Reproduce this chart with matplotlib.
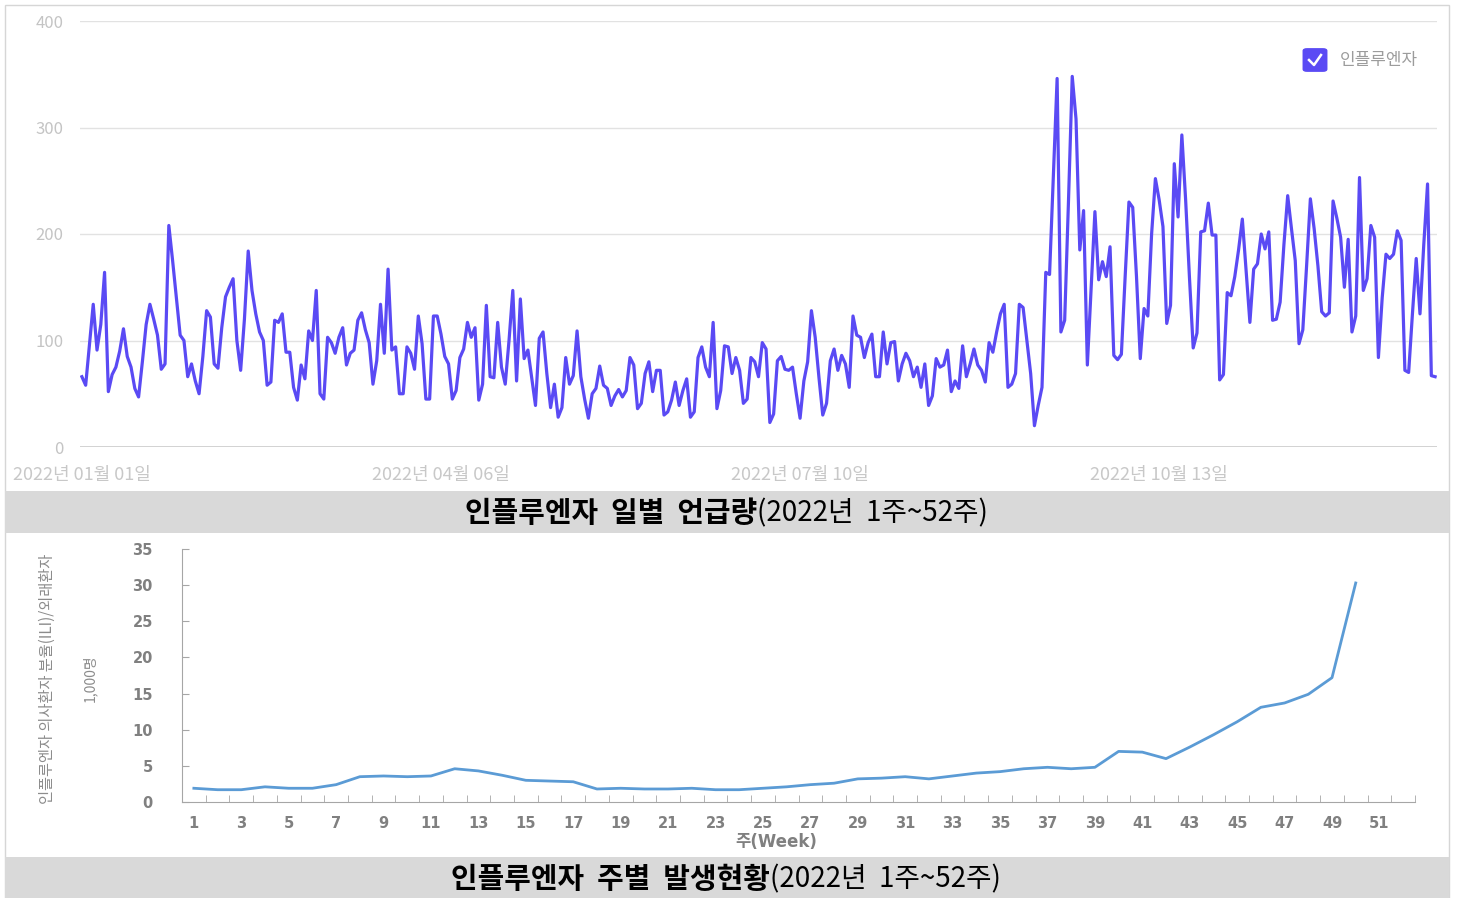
import numpy as np
import pandas as pd
import matplotlib
matplotlib.use("Agg")
import matplotlib.pyplot as plt
from matplotlib.patches import Rectangle, FancyBboxPatch
from matplotlib.lines import Line2D

plt.rcParams['font.family'] = ['Noto Sans CJK KR', 'DejaVu Sans']

# daily mention counts, 2022-01-01 onwards
daily_counts = [
    66, 58, 96, 134, 91, 115, 164, 52, 68, 75,
    90, 111, 85, 75, 55, 47, 80, 115, 134, 120,
    105, 73, 78, 208, 175, 140, 105, 100, 66, 78,
    62, 50, 85, 128, 122, 78, 74, 112, 141, 150,
    158, 100, 72, 120, 184,
    147, 125, 108, 100, 58, 61, 119, 117, 125, 89,
    89, 56, 44, 77, 64, 109, 100, 147, 50, 45,
    103, 98, 88, 103, 112, 77, 88, 91, 119, 126,
    110, 98, 59, 81, 134, 88, 167, 91, 94, 50,
    50, 94, 88, 73, 123,
    97, 45, 45, 123, 123, 106, 85, 78, 45, 53,
    84, 92, 117, 103, 112, 44, 59, 133, 66, 65,
    117, 75, 59, 100, 147, 62, 139, 83, 91, 65,
    39, 102, 108, 69, 37, 59, 28, 37, 84, 59,
    67, 109, 66, 45, 27,
    50, 55, 76, 58, 55, 39, 48, 54, 47, 53,
    84, 77, 36, 41, 69, 80, 52, 72, 72, 30,
    33, 44, 61, 39, 53, 64, 28, 33, 84, 94,
    75, 66, 117, 36, 53, 95, 94, 69, 84, 72,
    41, 45, 84, 80, 66,
    98, 92, 23, 31, 81, 85, 73, 72, 75, 50,
    27, 62, 80, 128, 103, 65, 30, 41, 81, 92,
    72, 86, 78, 56, 123, 105, 103, 84, 98, 106,
    66, 66, 108, 78, 98, 99, 62, 78, 88, 81,
    66, 75, 56, 78, 39,
    48, 83, 75, 77, 91, 52, 62, 55, 95, 66,
    78, 92, 77, 72, 61, 98, 89, 108, 125, 134,
    56, 59, 69, 134, 131, 100, 69, 20, 39, 56,
    164, 162, 255, 346, 108, 119, 230, 348, 308, 185,
    222, 77, 150, 221, 157,
    174, 160, 188, 86, 82, 87, 160, 230, 225, 160,
    83, 130, 123, 200, 252, 232, 207, 116, 133, 266,
    216, 293, 232, 160, 93, 107, 202, 203, 229, 199,
    199, 63, 68, 145, 142, 160, 185, 214, 165, 117,
    167, 172, 200, 186, 202,
    119, 120, 136, 190, 236, 205, 175, 97, 110, 170,
    233, 205, 170, 127, 123, 126, 231, 215, 197, 150,
    195, 108, 123, 253, 147, 158, 208, 197, 84, 140,
    181, 177, 181, 203, 194, 72, 70, 125, 177, 125,
    190, 247, 67, 66,
]
start_date = "2022-01-01"
date_ticks = ["2022-01-01", "2022-04-06", "2022-07-10", "2022-10-13"]
date_labels = ["2022년 01월 01일", "2022년 04월 06일", "2022년 07월 10일", "2022년 10월 13일"]
mention_ticks = [0, 100, 200, 300, 400]

# weekly ILI per 1,000 outpatients
weeks = list(range(1, 51))
ili_rate = [1.9, 1.7, 1.7, 2.1, 1.9, 1.9, 2.4, 3.5, 3.6, 3.5,
            3.6, 4.6, 4.3, 3.7, 3.0, 2.9, 2.8, 1.8, 1.9, 1.8,
            1.8, 1.9, 1.7, 1.7, 1.9, 2.1, 2.4, 2.6, 3.2, 3.3,
            3.5, 3.2, 3.6, 4.0, 4.2, 4.6, 4.8, 4.6, 4.8, 7.0,
            6.9, 6.0, 7.6, 9.3, 11.1, 13.1, 13.7, 14.9, 17.2, 30.3]
week_labels = list(range(1, 53, 2))
ili_ticks = [0, 5, 10, 15, 20, 25, 30, 35]

dates = pd.date_range(start_date, periods=len(daily_counts), freq="D")

W, H = 1457, 898
fig = plt.figure(figsize=(W / 100, H / 100), dpi=100)


def box(x0, y0, x1, y1):
    # pixel box (from top-left) -> figure fraction rect
    return [x0 / W, 1 - y1 / H, (x1 - x0) / W, (y1 - y0) / H]


def fx(x):
    return x / W


def fy(y):
    return 1 - y / H


# outer frame and grey title bands
fig.patches.append(Rectangle((fx(5), 0), fx(1449) - fx(5), fy(5), transform=fig.transFigure,
                             fill=False, ec="#d6d6d6", lw=1))
fig.patches.append(Rectangle((fx(5), fy(533)), fx(1449) - fx(5), fy(491) - fy(533),
                             transform=fig.transFigure, fc="#d9d9d9", ec="none"))
fig.patches.append(Rectangle((fx(5), 0), fx(1449) - fx(5), fy(857),
                             transform=fig.transFigure, fc="#d9d9d9", ec="none"))

# ---- top: daily mentions
ax1 = fig.add_axes(box(80, 21, 1437, 447))
ax1.plot(dates, daily_counts, color="#5a4af4", lw=2.3)
ax1.set_xlim(dates[0] - pd.Timedelta(hours=12), dates[-1] + pd.Timedelta(hours=12))
ax1.set_ylim(0, 400)
ax1.set_yticks(mention_ticks)
ax1.set_xticks(pd.to_datetime(date_ticks))
ax1.set_xticklabels(date_labels)
ax1.yaxis.grid(True, color="#e2e2e2", lw=1)
ax1.axhline(0, color="#cccccc", lw=1.2)
ax1.set_axisbelow(True)
for s in ax1.spines.values():
    s.set_visible(False)
ax1.tick_params(axis="y", length=0, pad=12, labelsize=12, labelcolor="#c4c4c4")
ax1.tick_params(axis="x", length=0, pad=14, labelsize=13, labelcolor="#c8c8c8")

# legend (checkbox style)
fig.patches.append(FancyBboxPatch((fx(1304), fy(71)), fx(1326) - fx(1304), fy(49) - fy(71),
                                  boxstyle="round,pad=0.001,rounding_size=0.003",
                                  transform=fig.transFigure, fc="#5a4af4", ec="none"))
fig.lines.append(Line2D([fx(1309), fx(1314), fx(1321)], [fy(60), fy(65), fy(55)],
                        transform=fig.transFigure, color="white", lw=1.8))
fig.text(fx(1340), fy(60), "인플루엔자", color="#9c9c9c", fontsize=12.2, va="center", ha="left")

fig.text(fx(757), fy(513), "인플루엔자  일별  언급량", fontsize=20.8, fontweight="bold",
         ha="right", va="center", color="black")
fig.text(fx(757), fy(513), "(2022년  1주~52주)", fontsize=20, ha="left", va="center", color="black")

# ---- bottom: weekly ILI
ax2 = fig.add_axes(box(182, 549, 1415, 802))
ax2.plot(weeks, ili_rate, color="#5b9bd5", lw=2)
ax2.set_xlim(0.5, 52.5)
ax2.set_ylim(0, 35)
ax2.set_xticks(week_labels)
ax2.set_xticks(np.arange(0.5, 53, 1), minor=True)
ax2.set_yticks(ili_ticks)
ax2.spines["top"].set_visible(False)
ax2.spines["right"].set_visible(False)
ax2.spines["left"].set_color("#a6a6a6")
ax2.spines["bottom"].set_color("#a6a6a6")
ax2.tick_params(axis="x", which="major", length=0, pad=10)
ax2.tick_params(axis="x", which="minor", length=5, direction="in", color="#a6a6a6")
ax2.tick_params(axis="y", length=5, direction="in", color="#a6a6a6", pad=21)
for lab in ax2.get_xticklabels() + ax2.get_yticklabels():
    lab.set_fontfamily("DejaVu Sans")
    lab.set_fontweight("bold")
    lab.set_fontsize(10.5)
    lab.set_color("#808080")

fig.text(fx(47), fy(679), "인플루엔자 의사환자 분율(ILI)/외래환자", rotation=90,
         color="#8c8c8c", fontsize=11, ha="center", va="center")
fig.text(fx(90), fy(678), "1,000명", rotation=90, color="#8c8c8c", fontsize=10,
         ha="center", va="center")
fig.text(fx(776), fy(842), "주(Week)", color="#808080", fontsize=12, fontweight="bold",
         family=["DejaVu Sans", "Noto Sans CJK KR"], ha="center", va="center")

fig.text(fx(770), fy(879), "인플루엔자  주별  발생현황", fontsize=20.8, fontweight="bold",
         ha="right", va="center", color="black")
fig.text(fx(770), fy(879), "(2022년  1주~52주)", fontsize=20, ha="left", va="center", color="black")

fig.savefig("out.png", dpi=100)
